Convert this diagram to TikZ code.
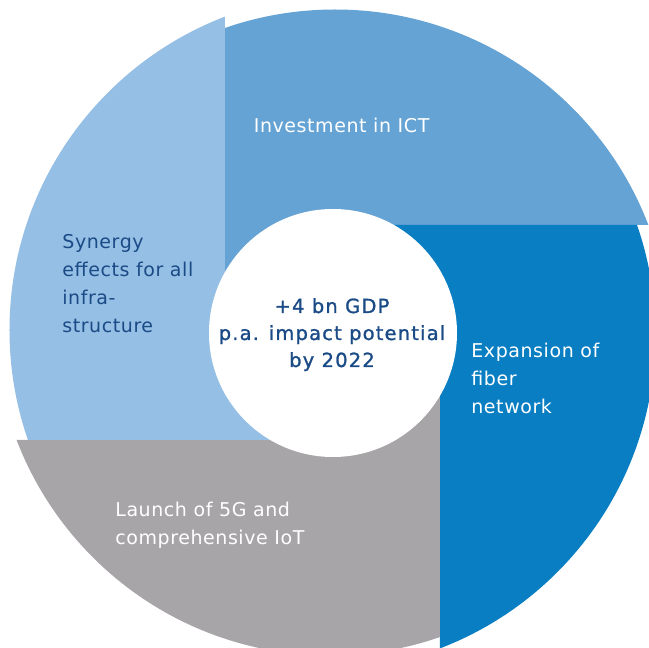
\documentclass[tikz,border=0pt]{standalone}
\usepackage{fontspec}
\setmainfont{DejaVu Sans}[LetterSpace=3]
\newfontfamily\hubfont{DejaVu Sans}[LetterSpace=6, FakeBold=1.2]
\definecolor{lightblue}{RGB}{149, 191, 228}
\definecolor{midblue}{RGB}{101, 163, 213}
\definecolor{darkblue}{RGB}{10, 126, 194}
\definecolor{stonegrey}{RGB}{167, 165, 168}
\definecolor{navy}{RGB}{27, 75, 135}

\begin{document}
\begin{tikzpicture}[
    x=0.5pt, y=0.5pt,
    seglabel/.style={anchor=base west, inner sep=0pt, align=left,
                     font=\fontsize{9.5}{14}\selectfont},
    hub/.style={anchor=base, inner sep=0pt, align=center, text=navy,
                font=\hubfont\fontsize{9.75}{13.5}\selectfont},
]
    \useasboundingbox (-332.5,-315.5) rectangle (316.5,332.5);
    \clip (-332.5,-315.5) rectangle (316.5,332.5);

    % four blades of the wheel, each one turned a quarter
    \foreach \tint/\ang in {midblue/0, darkblue/-90, stonegrey/-180, lightblue/-270} {
        \begin{scope}[rotate=\ang]
            \clip (-107.5,0) -- (-107.5,400) -- (400,400) -- (400,107.5)
                -- (0,107.5) -- (0,0) -- cycle;
            \fill[\tint] (2.5,-12.5) circle[radius=335.5];
        \end{scope}
    }
    \fill[white] (0.5,-0.5) circle[radius=124];

    % base of a multi-line node sits on its last line
    \node[seglabel, text=white] (ict) at (-79,199.5) {Investment in ICT};
    \node[seglabel, text=navy] (synergy) at (-270.5,-0.5)
        {Synergy\\effects for all\\infra-\\structure};
    \node[seglabel, text=white] (fiber) at (138.5,-81)
        {Expansion of\\fiber\\network};
    \node[seglabel, text=white] (iot) at (-217.5,-212.5)
        {Launch of 5G and\\comprehensive IoT};
    \node[hub] (gdp) at (-0.5,-34.5)
        {+4 bn GDP\\p.a. impact potential\\by 2022};
\end{tikzpicture}
\end{document}
